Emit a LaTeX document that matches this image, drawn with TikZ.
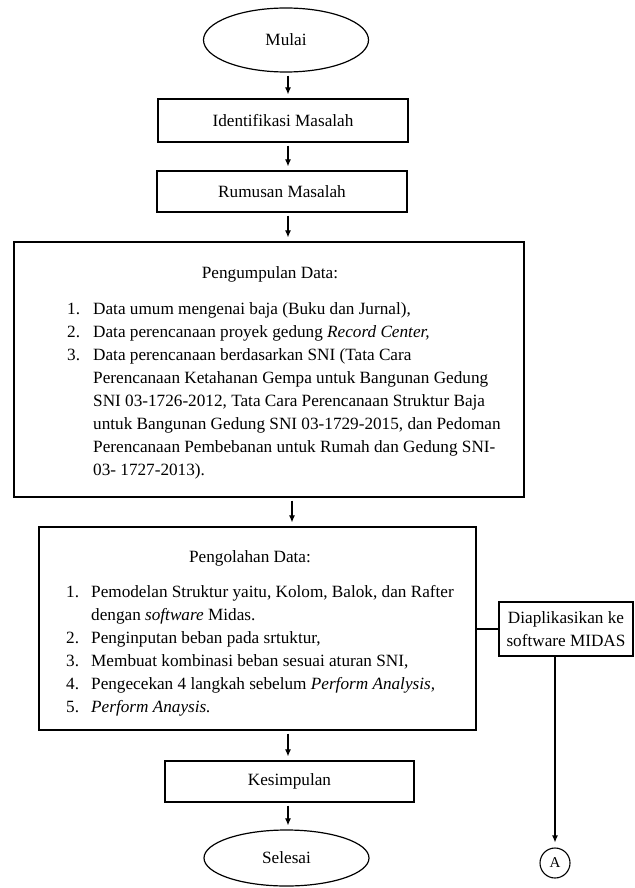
\documentclass[tikz,border=0pt]{standalone}
\usepackage{fontspec}
\setmainfont{Liberation Serif}
\usetikzlibrary{shapes.geometric,arrows.meta}
\begin{document}
\begin{tikzpicture}[x=1pt,y=-1pt,
  font=\fontsize{17.2}{23}\selectfont,
  box/.style={draw, line width=1.2pt, rectangle, inner sep=0pt},
  oval/.style={draw, line width=1.2pt, ellipse, inner sep=0pt},
  arr/.style={line width=1.1pt, -{Latex[length=7pt,width=6pt]}, shorten <=3pt, shorten >=4pt},
  conn/.style={line width=1.1pt},
  lbl/.style={inner sep=0pt, anchor=base},
  listnode/.style={inner sep=0pt, anchor=base west}
]
\useasboundingbox (0,0) rectangle (634,888);
\coordinate (col) at (288,0);
\coordinate (col2) at (292,0);

\node[oval, minimum width=165pt, minimum height=64pt] (mulai) at (286,40) {Mulai};
\node[box, minimum width=250pt, minimum height=43pt] (idf) at (283,120.5) {Identifikasi Masalah};
\node[box, minimum width=250pt, minimum height=41pt] (rum) at (282,191.5) {Rumusan Masalah};

\node[box, minimum width=510pt, minimum height=255pt] (pd) at (269,369.5) {};
\node[lbl] (pdt) at (270,278) {Pengumpulan Data:};
\node[listnode] (pdl) at (67,314) {\begin{tabular}[t]{@{}p{26pt}@{}l@{}}
1. & Data umum mengenai baja (Buku dan Jurnal),\\
2. & Data perencanaan proyek gedung \textit{Record Center,}\\
3. & Data perencanaan berdasarkan SNI (Tata Cara\\
   & Perencanaan Ketahanan Gempa untuk Bangunan Gedung\\
   & SNI 03-1726-2012, Tata Cara Perencanaan Struktur Baja\\
   & untuk Bangunan Gedung SNI 03-1729-2015, dan Pedoman\\
   & Perencanaan Pembebanan untuk Rumah dan Gedung SNI-\\
   & 03- 1727-2013).
\end{tabular}};

\node[box, minimum width=437pt, minimum height=203pt] (po) at (257.5,628.5) {};
\node[lbl] (pot) at (250,562) {Pengolahan Data:};
\node[listnode] (pol) at (66,597) {\begin{tabular}[t]{@{}p{25pt}@{}l@{}}
1. & Pemodelan Struktur yaitu, Kolom, Balok, dan Rafter\\
   & dengan \textit{software} Midas.\\
2. & Penginputan beban pada srtuktur,\\
3. & Membuat kombinasi beban sesuai aturan SNI,\\
4. & Pengecekan 4 langkah sebelum \textit{Perform Analysis,}\\
5. & \textit{Perform Anaysis.}
\end{tabular}};

\node[box, minimum width=134pt, minimum height=54pt, align=center] (app) at (566,629) {Diaplikasikan ke\\software MIDAS};

\node[box, minimum width=249pt, minimum height=41pt] (kes) at (289.5,781.5) {Kesimpulan};
\node[oval, minimum width=165pt, minimum height=56pt] (sel) at (286.5,858) {Selesai};
\node[draw, circle, line width=1.1pt, minimum size=30pt, inner sep=0pt, font=\fontsize{15}{18}\selectfont] (A) at (555,863) {A};

\draw[arr] (mulai.south -| col) -- (idf.north -| col);
\draw[arr] (idf.south -| col) -- (rum.north -| col);
\draw[arr] (rum.south -| col) -- (pd.north -| col);
\draw[arr] (pd.south -| col2) -- (po.north -| col2);
\draw[arr] (po.south -| col) -- (kes.north -| col);
\draw[arr] (kes.south -| col) -- (sel.north -| col);
\draw[conn] (po.east |- app.west) -- (app.west);
\draw[arr, shorten <=0pt, shorten >=5pt] (app.south -| A) -- (A.north);
\end{tikzpicture}
\end{document}
